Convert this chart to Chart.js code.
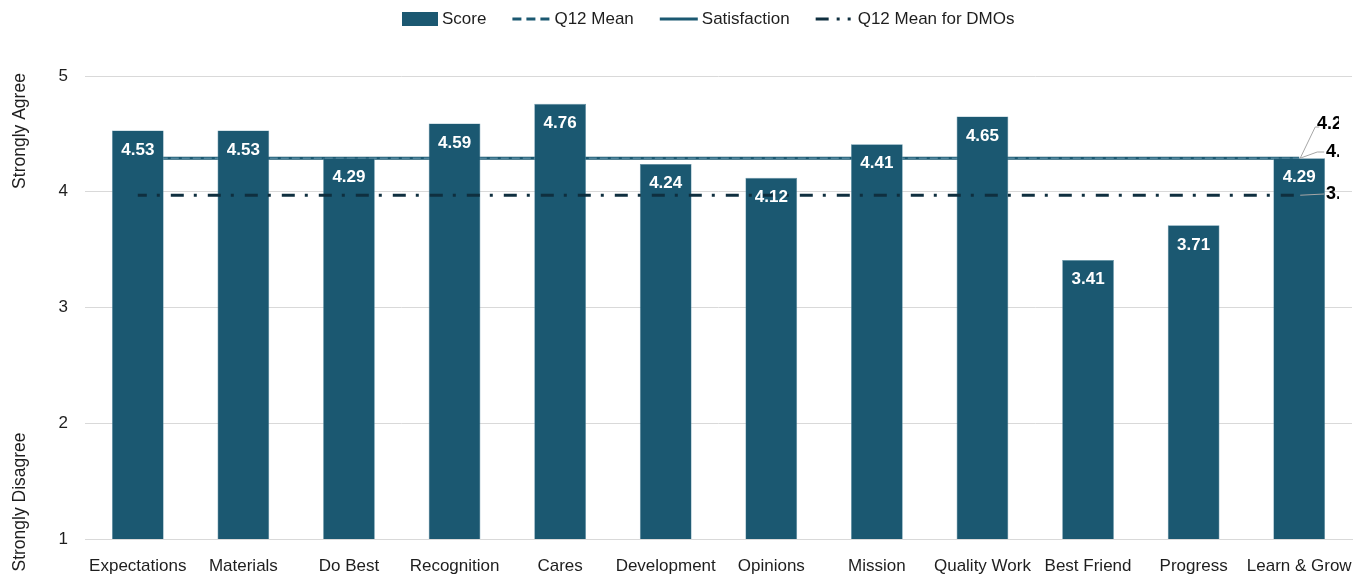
<!DOCTYPE html>
<html><head><meta charset="utf-8">
<script src="https://cdn.jsdelivr.net/npm/chart.js@4/dist/chart.umd.min.js"></script>
<style>html,body{margin:0;padding:0;background:#fff;overflow:hidden}#wrap{width:1357px;height:580px;position:relative}</style>
</head><body><div id="wrap"><canvas id="c" width="1357" height="580"></canvas></div>
<script>
// ---- data ----
const categories = ['Expectations','Materials','Do Best','Recognition','Cares','Development','Opinions','Mission','Quality Work','Best Friend','Progress','Learn & Grow'];
const scores = [4.53,4.53,4.29,4.59,4.76,4.24,4.12,4.41,4.65,3.41,3.71,4.29];
const q12MeanValue = 4.29;
const satisfactionValue = 4.29;
const dmoMeanValue = 3.97;
const yTicks = [1,2,3,4,5];
const seriesNames = ['Score','Q12 Mean','Satisfaction','Q12 Mean for DMOs'];
const yTitles = ['Strongly Agree','Strongly Disagree'];

const q12Mean = categories.map(() => q12MeanValue);
const satisfaction = categories.map(() => satisfactionValue);
const dmoMean = categories.map(() => dmoMeanValue);

// ---- styles ----
const FONT = '"Liberation Sans",Arial,sans-serif';
const BAR = '#1b5871';
const DARK = '#0f2f3f';
const TXT = '#1e1e1e';

const legendPlugin = {
  id: 'customLegend',
  afterDraw(chart) {
    const ctx = chart.ctx;
    ctx.save();
    ctx.font = '17px ' + FONT;
    ctx.textBaseline = 'middle';
    ctx.fillStyle = TXT;
    let x = 402; const y = 19;
    // Score
    ctx.fillStyle = BAR; ctx.fillRect(x, y - 7, 36, 14);
    ctx.fillStyle = TXT; ctx.fillText(seriesNames[0], x + 40, y);
    x += 40 + ctx.measureText(seriesNames[0]).width + 26;
    // Q12 Mean dashed
    ctx.strokeStyle = BAR; ctx.lineWidth = 3; ctx.setLineDash([9,5]);
    ctx.beginPath(); ctx.moveTo(x, y); ctx.lineTo(x + 38, y); ctx.stroke();
    ctx.fillText(seriesNames[1], x + 42, y);
    x += 42 + ctx.measureText(seriesNames[1]).width + 26;
    // Satisfaction solid
    ctx.setLineDash([]);
    ctx.beginPath(); ctx.moveTo(x, y); ctx.lineTo(x + 38, y); ctx.stroke();
    ctx.fillText(seriesNames[2], x + 42, y);
    x += 42 + ctx.measureText(seriesNames[2]).width + 26;
    // DMO dash-dot
    ctx.strokeStyle = DARK; ctx.setLineDash([13,8,3,8,3,10]);
    ctx.beginPath(); ctx.moveTo(x, y); ctx.lineTo(x + 38, y); ctx.stroke();
    ctx.setLineDash([]);
    ctx.fillText(seriesNames[3], x + 42, y);
    ctx.restore();
  }
};

const yTitlePlugin = {
  id: 'yTitles',
  afterDraw(chart) {
    const ctx = chart.ctx;
    [[yTitles[0], 131], [yTitles[1], 502]].forEach(([t, cy]) => {
      ctx.save();
      ctx.font = '17.5px ' + FONT;
      ctx.fillStyle = TXT;
      ctx.textAlign = 'center'; ctx.textBaseline = 'middle';
      ctx.translate(20, cy); ctx.rotate(-Math.PI/2); ctx.fillText(t, 0, 0);
      ctx.restore();
    });
  }
};

const barLabelPlugin = {
  id: 'barLabels',
  afterDatasetsDraw(chart) {
    const ctx = chart.ctx;
    const meta = chart.getDatasetMeta(0);
    ctx.save();
    ctx.font = 'bold 17px ' + FONT;
    ctx.fillStyle = '#ffffff';
    ctx.textAlign = 'center'; ctx.textBaseline = 'middle';
    meta.data.forEach((bar, i) => {
      ctx.fillText(scores[i].toFixed(2), bar.x, bar.y + 19.5);
    });
    ctx.restore();
  }
};

const endLabelPlugin = {
  id: 'endLabels',
  afterDraw(chart) {
    const ctx = chart.ctx;
    const ys = chart.scales.y;
    const lastX = chart.getDatasetMeta(0).data[categories.length - 1].x;
    const items = [
      {v: satisfactionValue, lx: 1317, ly: 124, pts: [[lastX + 1, null], [lastX + 16, 127], [lastX + 20, 127]]},
      {v: q12MeanValue, lx: 1326, ly: 152, pts: [[lastX + 1, null], [lastX + 18, 152], [lastX + 25, 152]]},
      {v: dmoMeanValue, lx: 1326, ly: 194, pts: [[lastX + 1, null], [lastX + 25, 194]]}
    ];
    items.forEach(it => {
      const py = ys.getPixelForValue(it.v);
      ctx.save();
      ctx.strokeStyle = '#a6a6a6'; ctx.lineWidth = 1;
      ctx.beginPath();
      it.pts.forEach((p, k) => {
        const yy = p[1] === null ? py : p[1];
        if (k === 0) ctx.moveTo(p[0], yy); else ctx.lineTo(p[0], yy);
      });
      ctx.stroke();
      ctx.beginPath(); ctx.rect(0, 0, 1339, 580); ctx.clip();
      ctx.font = 'bold 18px ' + FONT;
      ctx.fillStyle = '#000';
      ctx.textAlign = 'left'; ctx.textBaseline = 'middle';
      ctx.fillText(it.v.toFixed(2), it.lx, it.ly);
      ctx.restore();
    });
  }
};

new Chart(document.getElementById('c'), {
  data: {
    labels: categories,
    datasets: [
      { type: 'bar', label: seriesNames[0], data: scores, backgroundColor: BAR,
        borderColor: '#5c8ea3', borderWidth: 0.6, categoryPercentage: 1, barPercentage: 0.49, order: 2 },
      { type: 'line', label: seriesNames[2], data: satisfaction, borderColor: BAR, borderWidth: 3,
        pointRadius: 0, fill: false, order: 4 },
      { type: 'line', label: seriesNames[1], data: q12Mean, borderColor: '#6b9cb1', borderWidth: 1,
        borderDash: [8,3], pointRadius: 0, fill: false, order: 3 },
      { type: 'line', label: seriesNames[3], data: dmoMean, borderColor: DARK, borderWidth: 3,
        borderDash: [13,10,3,11], borderDashOffset: 4, pointRadius: 0, fill: false, order: 1 }
    ]
  },
  options: {
    responsive: false,
    animation: false,
    layout: { padding: { top: 76, right: 5, left: 0, bottom: 0 } },
    plugins: { legend: { display: false }, tooltip: { enabled: false } },
    scales: {
      x: {
        grid: { display: false, drawTicks: false },
        border: { display: true, color: '#d9d9d9', width: 1 },
        ticks: { color: TXT, font: { family: FONT, size: 17 }, padding: 17, maxRotation: 0, autoSkip: false },
        afterFit(a) { a.height = 41; a.paddingLeft = 0; a.paddingRight = 0; }
      },
      y: {
        min: 1, max: 5,
        afterBuildTicks(a) { a.ticks = yTicks.map(v => ({ value: v })); },
        grid: { color: '#d9d9d9', lineWidth: 1, drawTicks: false },
        border: { display: false },
        ticks: { color: TXT, font: { family: FONT, size: 17 }, padding: 17 },
        afterFit(a) { a.width = 85; a.paddingTop = 0; a.paddingBottom = 0; }
      }
    }
  },
  plugins: [legendPlugin, yTitlePlugin, barLabelPlugin, endLabelPlugin]
});
</script>
</body></html>
